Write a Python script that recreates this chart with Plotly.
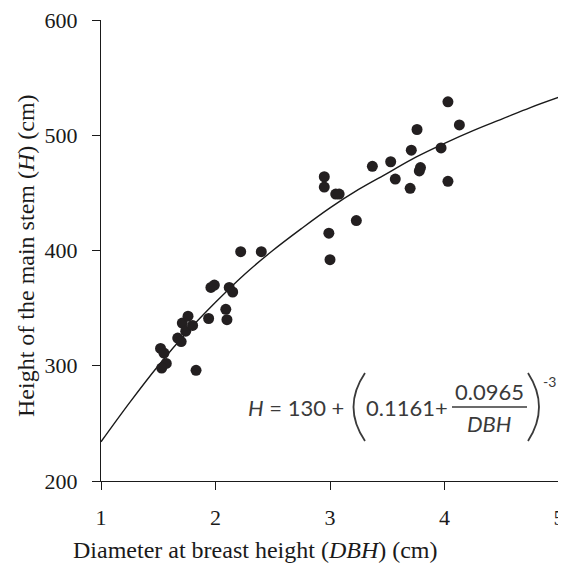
import plotly.graph_objects as go

# observed points (DBH in cm, H in cm)
dbh = [1.52, 1.55, 1.57, 1.53, 1.67, 1.70, 1.71, 1.74, 1.76, 1.80,
       1.83, 1.94, 1.96, 1.99, 2.09, 2.10, 2.12, 2.15, 2.22, 2.40,
       2.95, 2.95, 2.99, 3.00, 3.05, 3.08, 3.23, 3.37, 3.53, 3.57,
       3.70, 3.71, 3.76, 3.78, 3.79, 3.97, 4.03, 4.03, 4.13]
height = [315, 311, 302, 298, 324, 321, 337, 330, 343, 335,
          296, 341, 368, 370, 349, 340, 368, 364, 399, 399,
          464, 455, 415, 392, 449, 449, 426, 473, 477, 462,
          454, 487, 505, 469, 472, 489, 529, 460, 509]

# fitted curve
curve_dbh = [1.0, 1.25, 1.5, 1.75, 2.0, 2.25, 2.5, 2.75, 3.0,
             3.25, 3.5, 3.75, 4.0, 4.25, 4.5, 4.75, 5.0]
curve_h = [234, 268, 300, 329, 355, 379, 400, 419, 437,
           453, 467, 481, 493, 504, 514, 524, 533]

x_ticks = [1, 2, 3, 4, 5]
y_ticks = [200, 300, 400, 500, 600]

W, H = 566, 563
L, R, T, B = 93, 15, 12, 90
OFF = 8  # page body margin
serif = "Liberation Serif"
eq_font = "Lato"
ink = "#1a1a1a"
eqc = "#3a3a3a"


def sx(xs):
    # screen x -> paper x
    return (xs - OFF - L) / (W - L - R)


def sy(ys):
    # screen y -> paper y
    return (H - B - (ys - OFF)) / (H - T - B)


fig = go.Figure()
fig.add_trace(go.Scatter(x=curve_dbh, y=curve_h, mode="lines", line_shape="spline",
                         line=dict(color=ink, width=1.4), hoverinfo="skip"))
fig.add_trace(go.Scatter(x=dbh, y=height, mode="markers",
                         marker=dict(color="#231f20", size=11)))

ann = []
# axis titles
ann.append(dict(text="Diameter at breast height (<i>DBH</i>) (cm)", x=sx(255), y=sy(550),
                font=dict(size=24, family=serif, color=ink)))
ann.append(dict(text="Height of the main stem (<i>H</i>) (cm)", x=sx(26), y=sy(256), textangle=-90,
                font=dict(size=24, family=serif, color=ink)))
# equation
ann.append(dict(text="<i>H</i> = 130 +", x=sx(296), y=sy(407),
                font=dict(size=22, family=eq_font, color=eqc)))
ann.append(dict(text="0.1161+", x=sx(407), y=sy(407),
                font=dict(size=22, family=eq_font, color=eqc)))
ann.append(dict(text="0.0965", x=sx(489), y=sy(391), font=dict(size=22, family=eq_font, color=eqc)))
ann.append(dict(text="<i>DBH</i>", x=sx(489), y=sy(423), font=dict(size=22, family=eq_font, color=eqc)))
ann.append(dict(text="-3", x=sx(549), y=sy(381), font=dict(size=14, family=eq_font, color=eqc)))
for a in ann:
    a.update(xref="paper", yref="paper", showarrow=False, xanchor="center", yanchor="middle")


def paren(x_end, x_mid, y0, y1):
    return (f"M {sx(x_end)} {sy(y0)} Q {sx(x_mid)} {sy((y0 + y1) / 2)} {sx(x_end)} {sy(y1)}")


shapes = [
    dict(type="line", xref="paper", yref="paper", x0=sx(452), x1=sx(527),
         y0=sy(407), y1=sy(407), line=dict(color=eqc, width=1.4)),
    dict(type="path", xref="paper", yref="paper", path=paren(365, 342, 373, 441),
         line=dict(color=eqc, width=1.8)),
    dict(type="path", xref="paper", yref="paper", path=paren(528, 550, 373, 441),
         line=dict(color=eqc, width=1.8)),
]

fig.update_layout(
    width=W, height=H,
    margin=dict(l=L, r=R, t=T, b=B),
    paper_bgcolor="white", plot_bgcolor="white",
    showlegend=False,
    annotations=ann,
    shapes=shapes,
    font=dict(family=serif, size=22, color=ink),
)
fig.update_xaxes(range=[1, 5], tickvals=x_ticks, showgrid=False, zeroline=False,
                 showline=True, linecolor=ink, linewidth=1.3,
                 ticks="outside", ticklen=8, tickcolor=ink, tickwidth=1.3,
                 ticklabelstandoff=8, ticklabeloverflow="allow", automargin=False)
fig.update_yaxes(range=[200, 600], tickvals=y_ticks, showgrid=False, zeroline=False,
                 showline=True, linecolor=ink, linewidth=1.3,
                 ticks="outside", ticklen=8, tickcolor=ink, tickwidth=1.3,
                 ticklabelstandoff=10, ticklabeloverflow="allow", automargin=False)

fig.write_html("out.html")
